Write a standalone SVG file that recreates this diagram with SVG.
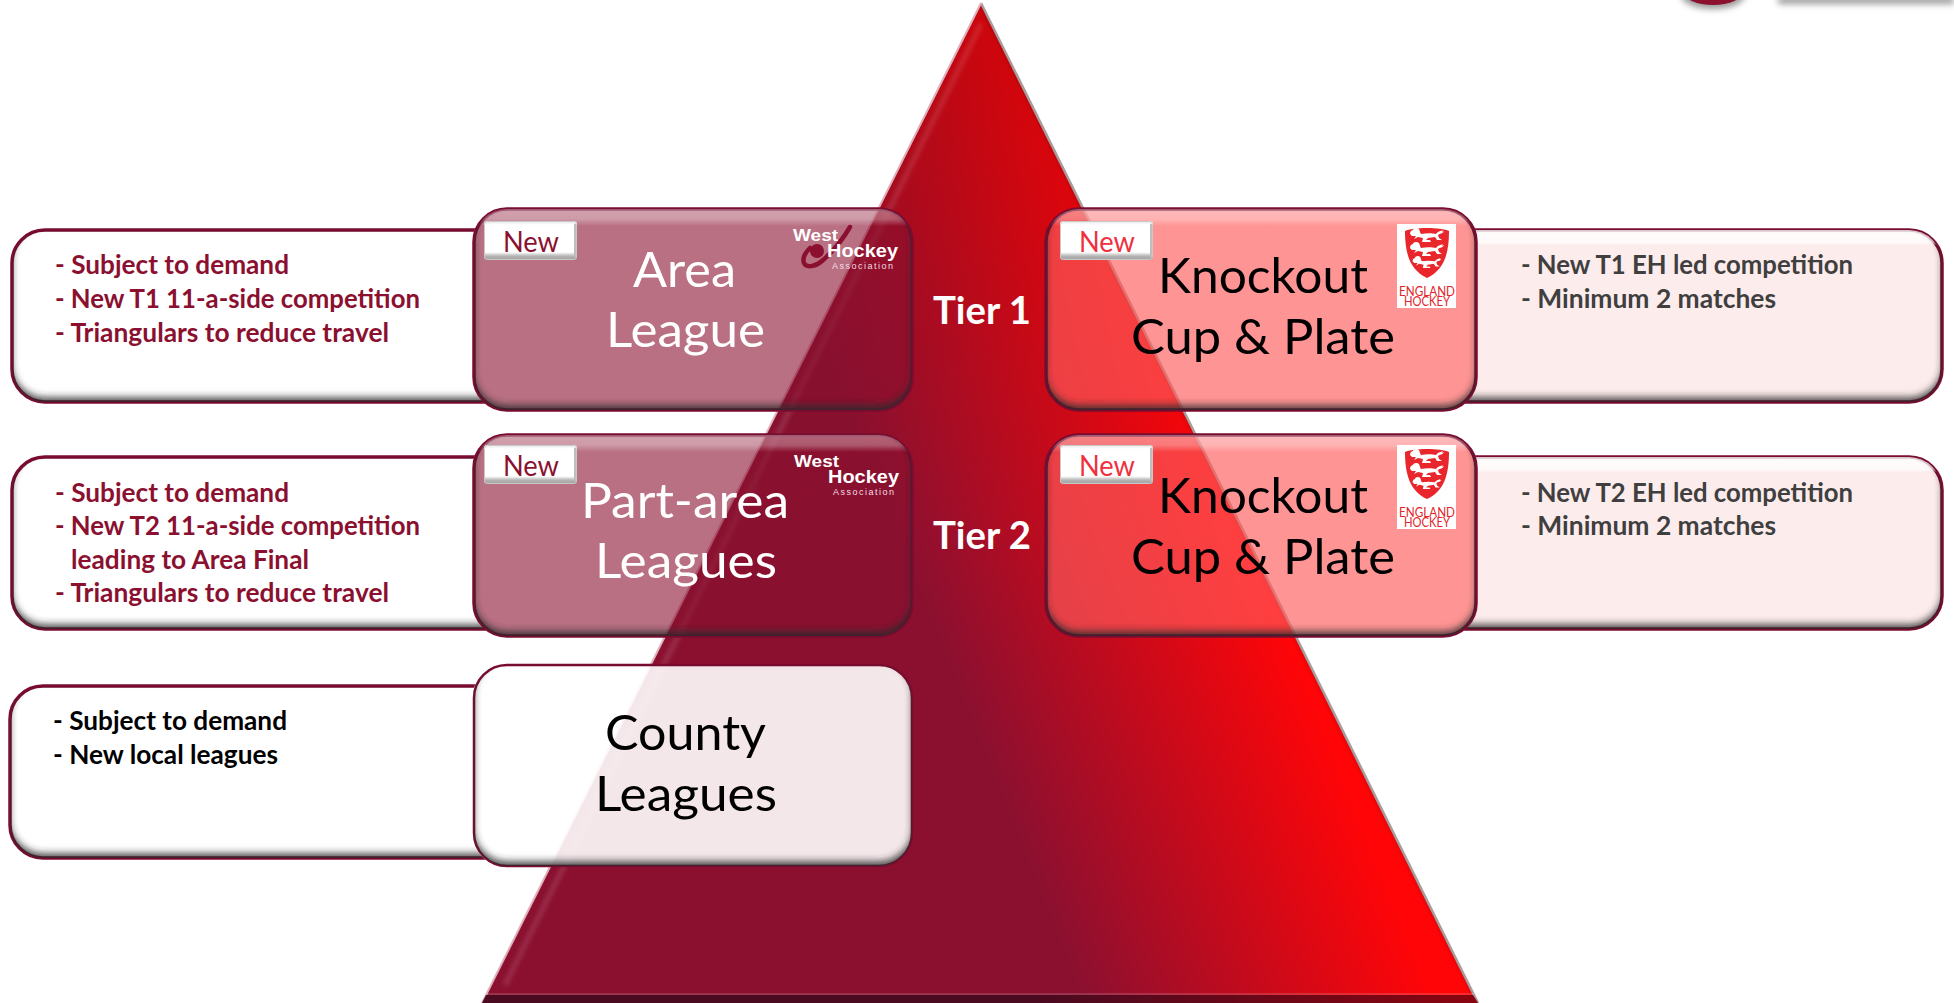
<svg xmlns="http://www.w3.org/2000/svg" xmlns:xlink="http://www.w3.org/1999/xlink" width="1954" height="1003" viewBox="0 0 1954 1003">
<style>
text{font-family:Lato,"Liberation Sans",sans-serif}
.frame{stroke:#7a0c30;stroke-width:3.5}
.bev{fill:url(#bevV);stroke:none}
.nbev{fill:url(#bevN);stroke:none}
.inner{fill:#000;stroke:none;filter:url(#inner)}
.big{font-size:49px}
.w{fill:#fff}.k{fill:#000}
.li{font-size:26px;font-weight:700}
.mar{fill:#8b1030}.gr{fill:#3f3f3f}.bl{fill:#000}
.tier{font-size:38px;font-weight:700;fill:#fff}
.new{font-size:29px}
.logo{font-family:"Liberation Sans",sans-serif;font-weight:700;fill:#fff}
.eng{font-size:12.5px;fill:#e3232b}
</style>
<defs>
<linearGradient id="tri" gradientUnits="userSpaceOnUse" x1="1044" y1="900" x2="1347" y2="779">
<stop offset="0" stop-color="#8b1030"/><stop offset="1" stop-color="#ff0508"/>
</linearGradient>
<linearGradient id="topShade" gradientUnits="userSpaceOnUse" x1="0" y1="0" x2="0" y2="520">
<stop offset="0" stop-color="#000" stop-opacity=".14"/><stop offset="1" stop-color="#000" stop-opacity="0"/>
</linearGradient>
<linearGradient id="base" x1="0" y1="0" x2="1" y2="0">
<stop offset="0" stop-color="#4a0a20"/><stop offset=".55" stop-color="#4a0a20"/><stop offset="1" stop-color="#8a0510"/>
</linearGradient>
<linearGradient id="bevV" x1="0" y1="0" x2="0" y2="1">
<stop offset="0" stop-color="#fff" stop-opacity=".35"/><stop offset=".05" stop-color="#fff" stop-opacity=".3"/><stop offset=".085" stop-color="#fff" stop-opacity="0"/><stop offset="1" stop-color="#fff" stop-opacity="0"/>
</linearGradient>
<linearGradient id="bevN" x1="0" y1="0" x2="0" y2="1">
<stop offset="0" stop-color="#fff" stop-opacity=".8"/><stop offset=".07" stop-color="#fff" stop-opacity=".75"/><stop offset=".09" stop-color="#fff" stop-opacity="0"/><stop offset="1" stop-color="#fff" stop-opacity="0"/>
</linearGradient>
<linearGradient id="badge" x1="0" y1="0" x2="0" y2="1">
<stop offset="0" stop-color="#e6e6e6"/><stop offset=".1" stop-color="#fff"/><stop offset=".8" stop-color="#fff"/><stop offset=".9" stop-color="#b4b4b4"/><stop offset="1" stop-color="#a0a0a0"/>
</linearGradient>
<clipPath id="triClip"><path d="M981 3L1478 1003H482Z"/></clipPath>
<clipPath id="cl1"><path clip-rule="evenodd" d="M0 200H540V420H0ZM473 240a33 33 0 0 1 33-33H540V411H506a33 33 0 0 1-33-33Z"/></clipPath>
<clipPath id="cl2"><path clip-rule="evenodd" d="M0 425H540V650H0ZM473 466a33 33 0 0 1 33-33H540V637H506a33 33 0 0 1-33-33Z"/></clipPath>
<clipPath id="cl3"><path clip-rule="evenodd" d="M0 670H540V880H0ZM473 696a33 33 0 0 1 33-33H540V867H506a33 33 0 0 1-33-33Z"/></clipPath>
<clipPath id="cr1"><path clip-rule="evenodd" d="M1440 200H1954V420H1440ZM1477 240a33 33 0 0 0-33-33H1440V411H1444a33 33 0 0 0 33-33Z"/></clipPath>
<clipPath id="cr2"><path clip-rule="evenodd" d="M1440 425H1954V650H1440ZM1477 466a33 33 0 0 0-33-33H1440V637H1444a33 33 0 0 0 33-33Z"/></clipPath>
<filter id="blur3" x="-20%" y="-100%" width="140%" height="300%"><feGaussianBlur stdDeviation="3"/></filter>
<filter id="blur2" filterUnits="userSpaceOnUse" x="400" y="0" width="1154" height="1003"><feGaussianBlur stdDeviation="2"/></filter>
<filter id="inner" x="-5%" y="-5%" width="110%" height="110%">
<feGaussianBlur in="SourceAlpha" stdDeviation="3.5" result="b"/>
<feOffset in="b" dy="-5" result="o"/>
<feComposite in="SourceAlpha" in2="o" operator="out" result="s"/>
<feFlood flood-color="#2a2a2a" flood-opacity=".8"/>
<feComposite in2="s" operator="in"/>
</filter>
<g id="newb"><rect x="0" y="0" width="93" height="39" rx="3" fill="url(#badge)"/><rect x="0.5" y="0.5" width="92" height="38" rx="3" fill="none" stroke="#c8c8c8"/><path d="M91 3V36" stroke="#bdbdbd" stroke-width="2"/></g>
<g id="wha">
<path d="M850 227C840 244 830 254 822 261C815 267 806 268 804 263C802 258 806 252 810 248" fill="none" stroke="#8b1030" stroke-width="4.5" stroke-linecap="round"/>
<circle cx="817" cy="251" r="7" fill="#8b1030"/>
<text class="logo" x="793" y="241" font-size="16" textLength="45" lengthAdjust="spacingAndGlyphs">West</text>
<text class="logo" x="827" y="257" font-size="18" textLength="71" lengthAdjust="spacingAndGlyphs">Hockey</text>
<text class="logo" x="832" y="269" font-size="9" textLength="61" style="font-weight:400;fill:#f2dfe4">Association</text>
</g>
<path id="lion" d="M-17 -2C-17 -5 -15 -6 -14 -6C-14 -8 -10 -9 -8 -7C-7 -5 -7 -3 -6 -2C-1 -3 5 -3 9 -2C11 -5 14 -5 16 -6C14 -4 16 -4 17 -5C16 -2 13 -3 11 -1L12 2L15 4L10 4L8 1L1 2L-1 4L3 4L4 6L-5 6L-4 2L-9 1L-13 3L-11 0L-15 0Z" fill="#fff"/>
<g id="eh">
<rect x="0" y="0" width="59" height="84" fill="#fff"/>
<path d="M8 7C16 3 44 3 52 7C52 30 47 46 30 54C13 46 8 30 8 7Z" fill="#e8262b"/>
<use xlink:href="#lion" transform="translate(30 12)"/>
<use xlink:href="#lion" transform="translate(30 26)"/>
<use xlink:href="#lion" transform="translate(30 39) scale(.85)"/>
<text class="eng" x="2" y="72" textLength="56" lengthAdjust="spacingAndGlyphs">ENGLAND</text>
<text class="eng" x="7" y="82" textLength="46" lengthAdjust="spacingAndGlyphs">HOCKEY</text>
</g>
</defs>
<rect width="1954" height="1003" fill="#fff"/>

<g id="corner-logo">
<ellipse cx="1713" cy="-5" rx="32" ry="14" fill="#999" filter="url(#blur3)"/>
<ellipse cx="1713" cy="-9" rx="30" ry="14" fill="#8b1030"/>
<rect x="1778" y="-3" width="176" height="7" fill="#9a9a9a" filter="url(#blur3)"/>
</g>

<g id="pyramid">
<path d="M981 3L1478 1003H482Z" fill="url(#tri)"/>
<g clip-path="url(#triClip)">
<rect x="700" y="0" width="600" height="520" fill="url(#topShade)"/>
<path d="M987 3L1484 1003" fill="none" stroke="#000" stroke-opacity=".16" stroke-width="15" filter="url(#blur2)"/>
<path d="M981 24L505 985" fill="none" stroke="#fff" stroke-opacity=".13" stroke-width="5" filter="url(#blur2)"/>
</g>
<path d="M981 3L1478 1003" fill="none" stroke="#a89c9c" stroke-width="2.5"/>
<path d="M981 3L482 1003" fill="none" stroke="#e0b0bc" stroke-width="2"/>
<path d="M487 994H1474" fill="none" stroke="#fff" stroke-opacity=".15" stroke-width="2"/>
<path d="M486 995H1473L1478 1003H482Z" fill="url(#base)"/>
</g>

<g id="note-area">
<g clip-path="url(#cl1)"><rect class="frame" x="12" y="230" width="560" height="172" rx="33" fill="#fff"/><rect class="inner" x="12" y="230" width="560" height="172" rx="33"/></g>
<text class="li mar" x="55" y="274" textLength="234" lengthAdjust="spacingAndGlyphs">- Subject to demand</text>
<text class="li mar" x="55" y="308" textLength="365" lengthAdjust="spacingAndGlyphs">- New T1 11-a-side competition</text>
<text class="li mar" x="55" y="342" textLength="334" lengthAdjust="spacingAndGlyphs">- Triangulars to reduce travel</text>
</g>
<g id="note-part-area">
<g clip-path="url(#cl2)"><rect class="frame" x="12" y="457" width="560" height="172" rx="33" fill="#fff"/><rect class="inner" x="12" y="457" width="560" height="172" rx="33"/></g>
<text class="li mar" x="55" y="502" textLength="234" lengthAdjust="spacingAndGlyphs">- Subject to demand</text>
<text class="li mar" x="55" y="535" textLength="365" lengthAdjust="spacingAndGlyphs">- New T2 11-a-side competition</text>
<text class="li mar" x="71" y="569" textLength="238" lengthAdjust="spacingAndGlyphs">leading to Area Final</text>
<text class="li mar" x="55" y="602" textLength="334" lengthAdjust="spacingAndGlyphs">- Triangulars to reduce travel</text>
</g>
<g id="note-county">
<g clip-path="url(#cl3)"><rect class="frame" x="10" y="686" width="560" height="172" rx="33" fill="#fff"/><rect class="inner" x="10" y="686" width="560" height="172" rx="33"/></g>
<text class="li bl" x="53" y="730" textLength="234" lengthAdjust="spacingAndGlyphs">- Subject to demand</text>
<text class="li bl" x="53" y="764" textLength="225" lengthAdjust="spacingAndGlyphs">- New local leagues</text>
</g>
<g id="note-ko1">
<g clip-path="url(#cr1)"><rect class="frame" x="1400" y="230" width="542" height="172" rx="33" fill="#fdecec"/><rect class="nbev" x="1400" y="230" width="542" height="172" rx="33"/><rect class="inner" x="1400" y="230" width="542" height="172" rx="33"/></g>
<text class="li gr" x="1521" y="274" textLength="332" lengthAdjust="spacingAndGlyphs">- New T1 EH led competition</text>
<text class="li gr" x="1521" y="308" textLength="255" lengthAdjust="spacingAndGlyphs">- Minimum 2 matches</text>
</g>
<g id="note-ko2">
<g clip-path="url(#cr2)"><rect class="frame" x="1400" y="457" width="542" height="172" rx="33" fill="#fdecec"/><rect class="nbev" x="1400" y="457" width="542" height="172" rx="33"/><rect class="inner" x="1400" y="457" width="542" height="172" rx="33"/></g>
<text class="li gr" x="1521" y="502" textLength="332" lengthAdjust="spacingAndGlyphs">- New T2 EH led competition</text>
<text class="li gr" x="1521" y="535" textLength="255" lengthAdjust="spacingAndGlyphs">- Minimum 2 matches</text>
</g>

<g id="area-league">
<rect class="frame" x="474" y="209" width="438" height="201" rx="33" fill="#8b1030" fill-opacity=".6"/>
<rect class="bev" x="474" y="209" width="438" height="201" rx="33"/><rect class="inner" x="474" y="209" width="438" height="201" rx="33"/>
<use xlink:href="#newb" x="484" y="221"/>
<text class="new mar" x="503" y="252" textLength="56" lengthAdjust="spacingAndGlyphs">New</text>
<text class="big w" x="633" y="287" textLength="103" lengthAdjust="spacingAndGlyphs">Area</text>
<text class="big w" x="606" y="347" textLength="159" lengthAdjust="spacingAndGlyphs">League</text>
<use xlink:href="#wha"/>
</g>
<g id="part-area-leagues">
<rect class="frame" x="474" y="435" width="438" height="201" rx="33" fill="#8b1030" fill-opacity=".6"/>
<rect class="bev" x="474" y="435" width="438" height="201" rx="33"/><rect class="inner" x="474" y="435" width="438" height="201" rx="33"/>
<use xlink:href="#newb" x="484" y="445"/>
<text class="new mar" x="503" y="476" textLength="56" lengthAdjust="spacingAndGlyphs">New</text>
<text class="big w" x="581" y="518" textLength="208" lengthAdjust="spacingAndGlyphs">Part-area</text>
<text class="big w" x="595" y="578" textLength="182" lengthAdjust="spacingAndGlyphs">Leagues</text>
<use xlink:href="#wha" x="1" y="226"/>
</g>
<g id="county-leagues">
<rect class="frame" x="474" y="665" width="438" height="201" rx="33" fill="#fff" fill-opacity=".9" style="stroke-width:2.5"/>
<rect class="inner" x="474" y="665" width="438" height="201" rx="33"/>
<text class="big k" x="605" y="750" textLength="161" lengthAdjust="spacingAndGlyphs">County</text>
<text class="big k" x="595" y="811" textLength="182" lengthAdjust="spacingAndGlyphs">Leagues</text>
</g>
<g id="knockout-1">
<rect class="frame" x="1046" y="209" width="430" height="201" rx="33" fill="#ff5d5d" fill-opacity=".66"/>
<rect class="bev" x="1046" y="209" width="430" height="201" rx="33"/><rect class="inner" x="1046" y="209" width="430" height="201" rx="33"/>
<use xlink:href="#newb" x="1060" y="221"/>
<text class="new" fill="#f0303c" x="1079" y="252" textLength="56" lengthAdjust="spacingAndGlyphs">New</text>
<text class="big k" x="1158" y="293" textLength="210" lengthAdjust="spacingAndGlyphs">Knockout</text>
<text class="big k" x="1131" y="354" textLength="264" lengthAdjust="spacingAndGlyphs">Cup &amp; Plate</text>
<use xlink:href="#eh" x="1397" y="224"/>
</g>
<g id="knockout-2">
<rect class="frame" x="1046" y="435" width="430" height="201" rx="33" fill="#ff5d5d" fill-opacity=".66"/>
<rect class="bev" x="1046" y="435" width="430" height="201" rx="33"/><rect class="inner" x="1046" y="435" width="430" height="201" rx="33"/>
<use xlink:href="#newb" x="1060" y="445"/>
<text class="new" fill="#f0303c" x="1079" y="476" textLength="56" lengthAdjust="spacingAndGlyphs">New</text>
<text class="big k" x="1158" y="513" textLength="210" lengthAdjust="spacingAndGlyphs">Knockout</text>
<text class="big k" x="1131" y="574" textLength="264" lengthAdjust="spacingAndGlyphs">Cup &amp; Plate</text>
<use xlink:href="#eh" x="1397" y="445"/>
</g>
<g id="tier-labels">
<text class="tier" x="933" y="324" textLength="98" lengthAdjust="spacingAndGlyphs">Tier 1</text>
<text class="tier" x="933" y="549" textLength="98" lengthAdjust="spacingAndGlyphs">Tier 2</text>
</g>
</svg>
